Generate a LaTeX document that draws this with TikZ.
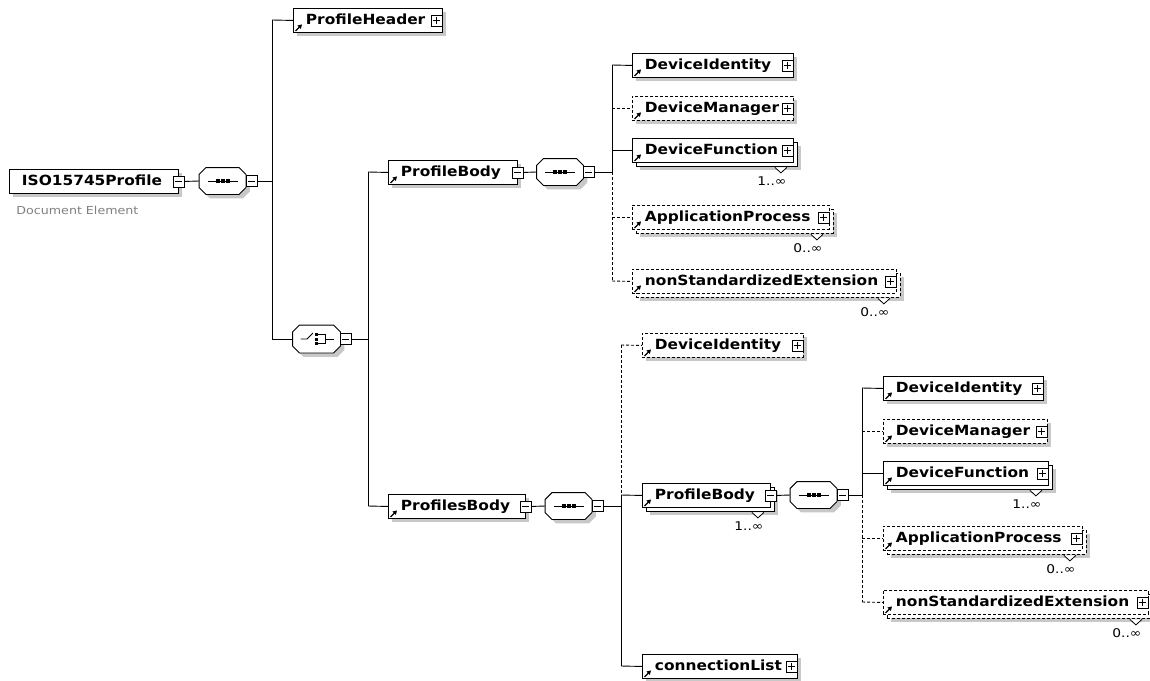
\documentclass[tikz,border=0pt]{standalone}
\usepackage{fontspec}
\usetikzlibrary{shadows,arrows.meta}
\newfontfamily\elfont[FakeStretch=1.1]{DejaVu Sans Bold}
\newfontfamily\smfont[FakeStretch=1.15]{DejaVu Sans}
\definecolor{shadowgray}{RGB}{200,200,200}
\definecolor{notegray}{RGB}{128,128,128}
\tikzset{
  x=1pt, y=-1pt,
  shadowed/.style={drop shadow={shadow xshift=4pt, shadow yshift=-4pt, fill=shadowgray, opacity=1}},
  elembox/.style={draw, fill=white, rectangle, inner sep=0pt, minimum height=24pt, anchor=north west},
  optbox/.style={elembox, dash pattern=on 3pt off 2pt},
  lbl/.style={font=\elfont\fontsize{14pt}{16pt}\selectfont, anchor=base west, inner sep=0pt},
  mult/.style={font=\smfont\fontsize{12pt}{14pt}\selectfont, inner sep=0pt},
  note/.style={font=\smfont\fontsize{11pt}{13pt}\selectfont, text=notegray, anchor=base west, inner sep=0pt},
  pmbase/.style={draw, fill=white, rectangle, minimum size=11pt, inner sep=0pt, line width=0.8pt},
  minusbox/.style={pmbase, path picture={\draw[line width=0.9pt] ([xshift=2pt]path picture bounding box.west) -- ([xshift=-2pt]path picture bounding box.east);}},
  plusbox/.style={pmbase, path picture={\draw[line width=0.9pt] ([xshift=2pt]path picture bounding box.west) -- ([xshift=-2pt]path picture bounding box.east) ([yshift=-2pt]path picture bounding box.north) -- ([yshift=2pt]path picture bounding box.south);}},
  octbase/.style={rectangle, minimum width=46pt, minimum height=26pt, inner sep=0pt},
  octline/.style={draw, fill=white, line width=0.9pt, shadowed},
  refarrow/.style={line width=1.2pt, -{Triangle[length=4pt,width=4.5pt]}},
  notch/.style={fill=white, line width=0.8pt, solid},
  conn/.style={line width=0.9pt},
  optconn/.style={line width=0.9pt, dash pattern=on 3pt off 2pt},
}
\newcommand\elem[6]{%
  \node[#5, shadowed, minimum width=#4pt] (#1) at (#2,#3) {};
  \node[lbl] (#1-t) at ([xshift=12.5pt, yshift=-4pt]#1.west) {#6};
  \draw[refarrow] ([xshift=2.5pt, yshift=2pt]#1.south west) -- ++(6.5pt,6.5pt);
}
\newcommand\multi[7]{%
  \node[#5, shadowed, minimum width=#4pt] (#1-b) at (#2+4,#3+4) {};
  \node[#5, minimum width=#4pt] (#1) at (#2,#3) {};
  \node[lbl] (#1-t) at ([xshift=12.5pt, yshift=-4pt]#1.west) {#6};
  \draw[refarrow] ([xshift=2.5pt, yshift=2pt]#1.south west) -- ++(6.5pt,6.5pt);
  \draw[notch] ([xshift=-23pt, yshift=-0.5pt]#1-b.south east) -- ([xshift=-17pt, yshift=-6pt]#1-b.south east) -- ([xshift=-11pt, yshift=-0.5pt]#1-b.south east);
  \node[mult] (#1-m) at ([xshift=-26pt, yshift=-14pt]#1-b.south east) {#7};
}
\newcommand\plusat[1]{\node[plusbox] (#1-pm) at ([xshift=-6.5pt]#1.east) {};}
\newcommand\minusat[1]{\node[minusbox] (#1-pm) at ([xshift=-0.5pt]#1.east) {};}
\newcommand\octagon[1]{%
  \path[octline] ([xshift=7pt]#1.north west) -- ([xshift=-7pt]#1.north east) -- ([yshift=-7pt]#1.north east) -- ([yshift=7pt]#1.south east) -- ([xshift=-7pt]#1.south east) -- ([xshift=7pt]#1.south west) -- ([yshift=7pt]#1.south west) -- ([yshift=-7pt]#1.north west) -- cycle;
}
\newcommand\seqicon[1]{%
  \draw[line width=0.9pt] ([xshift=-15pt]#1.center) -- ([xshift=15pt]#1.center);
  \foreach \dx in {-7,-2,3} \fill ([xshift=\dx pt, yshift=-2pt]#1.center) rectangle ++(4pt,4pt);
}
\newcommand\choiceicon[1]{%
  \draw[line width=0.9pt] ([xshift=-16pt]#1.center) -- ([xshift=-9.5pt]#1.center) -- ([xshift=-3.5pt,yshift=6pt]#1.center);
  \foreach \dy in {3,-1.5,-6} \fill ([xshift=-1.5pt,yshift=\dy pt]#1.center) rectangle ++(3pt,3pt);
  \draw[line width=0.9pt] ([xshift=1.5pt,yshift=4.5pt]#1.center) -- ([xshift=8.5pt,yshift=4.5pt]#1.center) -- ([xshift=8.5pt,yshift=-4.5pt]#1.center) -- ([xshift=1.5pt,yshift=-4.5pt]#1.center);
  \draw[line width=0.9pt] ([xshift=8.5pt]#1.center) -- ([xshift=17pt]#1.center);
}
\begin{document}
\begin{tikzpicture}[line width=0.9pt]
\useasboundingbox[fill=white] (0,0) rectangle (1150,680);

% root
\node[elembox, shadowed, minimum width=169pt] (root) at (9,169) {};
\node[lbl] (root-t) at ([xshift=12.5pt, yshift=-4pt]root.west) {ISO15745Profile};
\minusat{root}
\node[note] (root-n) at (16,214) {Document Element};

\node[octbase] (s1) at (222.5,181) {};
\octagon{s1}
\seqicon{s1}
\node[minusbox] (s1-pm) at ([xshift=5.5pt]s1.east) {};

\coordinate (v1t) at (272,20);
\coordinate (v1b) at (272,339);

\elem{ph}{293}{8}{149}{elembox}{ProfileHeader}
\plusat{ph}

\node[octbase, minimum width=47pt, minimum height=27pt] (ch) at (316.5,339) {};
\octagon{ch}
\choiceicon{ch}
\node[minusbox] (ch-pm) at ([xshift=5.5pt]ch.east) {};

\coordinate (v2t) at (368,172);
\coordinate (v2b) at (368,506);

% upper ProfileBody
\elem{pb1}{388}{160}{129}{elembox}{ProfileBody}
\minusat{pb1}
\node[octbase] (s2) at (560,172) {};
\octagon{s2}
\seqicon{s2}
\node[minusbox] (s2-pm) at ([xshift=5.5pt]s2.east) {};

\coordinate (v3t) at (612,65);
\coordinate (v3m) at (612,172);
\coordinate (v3b) at (612,281);

\elem{di1}{632}{53}{161}{elembox}{DeviceIdentity}
\plusat{di1}
\elem{dm1}{632}{96}{161}{optbox}{DeviceManager}
\plusat{dm1}
\multi{df1}{632}{138}{161}{elembox}{DeviceFunction}{1..∞}
\plusat{df1}
\multi{ap1}{632}{205}{197}{optbox}{ApplicationProcess}{0..∞}
\plusat{ap1}
\multi{ns1}{632}{269}{264}{optbox}{nonStandardizedExtension}{0..∞}
\plusat{ns1}

% lower ProfilesBody
\elem{psb}{388}{494}{137}{elembox}{ProfilesBody}
\minusat{psb}
\node[octbase] (s3) at (568.5,506) {};
\octagon{s3}
\seqicon{s3}
\node[minusbox] (s3-pm) at ([xshift=5.5pt]s3.east) {};

\coordinate (v4t) at (621,345);
\coordinate (v4m) at (621,495);
\coordinate (v4b) at (621,666);

\elem{di2}{642}{333}{161}{optbox}{DeviceIdentity}
\plusat{di2}
\multi{pb2}{642}{483}{128}{elembox}{ProfileBody}{1..∞}
\minusat{pb2}
\node[octbase] (s4) at (813.5,495) {};
\octagon{s4}
\seqicon{s4}
\node[minusbox] (s4-pm) at ([xshift=5.5pt]s4.east) {};
\elem{cl}{642}{654}{155}{elembox}{connectionList}
\plusat{cl}

\coordinate (v5t) at (862,388);
\coordinate (v5m) at (862,495);
\coordinate (v5b) at (862,602);

\elem{di3}{883}{376}{160}{elembox}{DeviceIdentity}
\plusat{di3}
\elem{dm3}{883}{419}{164}{optbox}{DeviceManager}
\plusat{dm3}
\multi{df3}{883}{461}{165}{elembox}{DeviceFunction}{1..∞}
\plusat{df3}
\multi{ap3}{883}{526}{199}{optbox}{ApplicationProcess}{0..∞}
\plusat{ap3}
\multi{ns3}{883}{590}{265}{optbox}{nonStandardizedExtension}{0..∞}
\plusat{ns3}

% connectors
\draw[conn] (root-pm.east) -- (s1.west);
\draw[conn] (s1-pm.east) -- (s1-pm.east -| v1t);
\draw[conn] (v1t) -- (v1b);
\draw[conn] (v1t) -- (ph.west);
\draw[conn] (v1b) -- (ch.west);

\draw[conn] (ch-pm.east) -- (ch-pm.east -| v2t);
\draw[conn] (v2t) -- (v2b);
\draw[conn] (v2t) -- (pb1.west);
\draw[conn] (v2b) -- (psb.west);

\draw[conn] (pb1-pm.east) -- (s2.west);
\draw[conn] (s2-pm.east) -- (v3m);
\draw[conn] (v3t) -- (v3m);
\draw[optconn] (v3m) -- (v3b);
\draw[conn] (v3t) -- (di1.west);
\draw[optconn] (dm1.west -| v3t) -- (dm1.west);
\draw[conn] (df1.west -| v3t) -- (df1.west);
\draw[optconn] (ap1.west -| v3t) -- (ap1.west);
\draw[optconn] (v3b) -- (ns1.west);

\draw[conn] (psb-pm.east) -- (s3.west);
\draw[conn] (s3-pm.east) -- (s3-pm.east -| v4t);
\draw[optconn] (v4t) -- (v4m);
\draw[conn] (v4m) -- (v4b);
\draw[optconn] (v4t) -- (di2.west);
\draw[conn] (v4m) -- (pb2.west);
\draw[conn] (v4b) -- (cl.west);

\draw[conn] (pb2-pm.east) -- (s4.west);
\draw[conn] (s4-pm.east) -- (s4-pm.east -| v5t);
\draw[conn] (v5t) -- (v5m);
\draw[optconn] (v5m) -- (v5b);
\draw[conn] (v5t) -- (di3.west);
\draw[optconn] (dm3.west -| v5t) -- (dm3.west);
\draw[conn] (df3.west -| v5t) -- (df3.west);
\draw[optconn] (ap3.west -| v5t) -- (ap3.west);
\draw[optconn] (v5b) -- (ns3.west);
\end{tikzpicture}
\end{document}
